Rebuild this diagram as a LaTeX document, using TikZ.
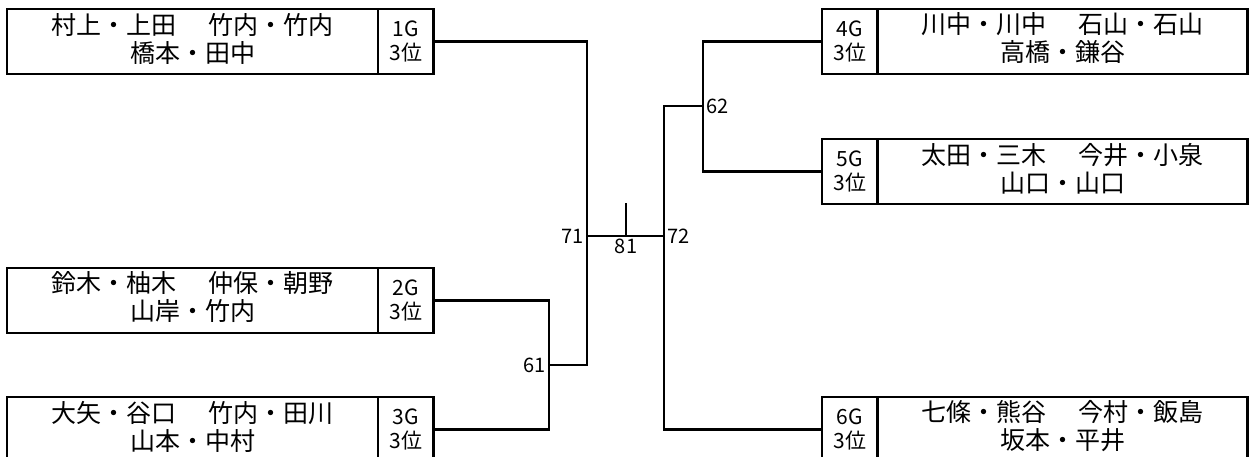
\documentclass[tikz,border=0pt]{standalone}
\usepackage{fontspec}
\setmainfont{Noto Sans CJK JP}
\usetikzlibrary{positioning}

\newcommand{\teamgap}{\hspace{1.25em}}
\newcommand{\upby}[1]{\raisebox{3pt}[\height][\depth]{#1}}
\tikzset{
  names/.style={draw, line width=2.2pt, minimum width=371pt, minimum height=65pt,
    inner sep=0pt, outer sep=0pt, align=center, font=\fontsize{25}{28}\selectfont},
  grp/.style={draw, line width=2.2pt, minimum width=55.5pt, minimum height=65pt,
    inner sep=0pt, outer sep=0pt, align=center, font=\fontsize{21}{24}\selectfont},
  lbl/.style={inner sep=3pt, font=\fontsize{20}{22}\selectfont},
  wire/.style={line width=2.2pt}
}

\begin{document}
\begin{tikzpicture}[x=1pt,y=-1pt]
\clip (0,0) rectangle (1250,456);
% Left blocks
\foreach \i/\y/\linea/\lineb in {1/9/村上・上田\teamgap 竹内・竹内/橋本・田中,
    2/268/鈴木・柚木\teamgap 仲保・朝野/山岸・竹内,
    3/397/大矢・谷口\teamgap 竹内・田川/山本・中村} {
    \node[names, anchor=north west] (n\i) at (7,\y) {\upby{\linea}\\\upby{\lineb}};
    \node[grp, right=0pt of n\i] (g\i) {\i G\\3位};
}
% Right blocks
\foreach \i/\y/\linea/\lineb in {4/9/川中・川中\teamgap 石山・石山/高橋・鎌谷,
    5/139/太田・三木\teamgap 今井・小泉/山口・山口,
    6/397/七條・熊谷\teamgap 今村・飯島/坂本・平井} {
    \node[grp, anchor=north west] (g\i) at (822,\y) {\i G\\3位};
    \node[names, right=0pt of g\i, minimum width=370pt] (n\i) {\upby{\linea}\\\upby{\lineb}};
}
% Junctions
\coordinate (c61) at (549,365);
\coordinate (c71) at (587,236);
\coordinate (c72) at (664,236);
\coordinate (c81) at (626,236);
\coordinate (t81) at (626,203);
\coordinate (c62) at (703,106);
% Connections
\draw[wire] (g2.east) -| (c61) |- (g3.east);
\draw[wire] (c61) -| (c71) |- (g1.east);
\draw[wire] (c71) -- (c72);
\draw[wire] (c81) -- (t81);
\draw[wire] (g6.west) -| (c72) |- (c62);
\draw[wire] (g4.west) -| (c62) |- (g5.west);
% Labels
\node[lbl, left] (l61) at (c61) {61};
\node[lbl, left] (l71) at (c71) {71};
\node[lbl, right] (l72) at (c72) {72};
\node[lbl, below] (l81) at (c81) {81};
\node[lbl, right] (l62) at (c62) {62};
\end{tikzpicture}
\end{document}
